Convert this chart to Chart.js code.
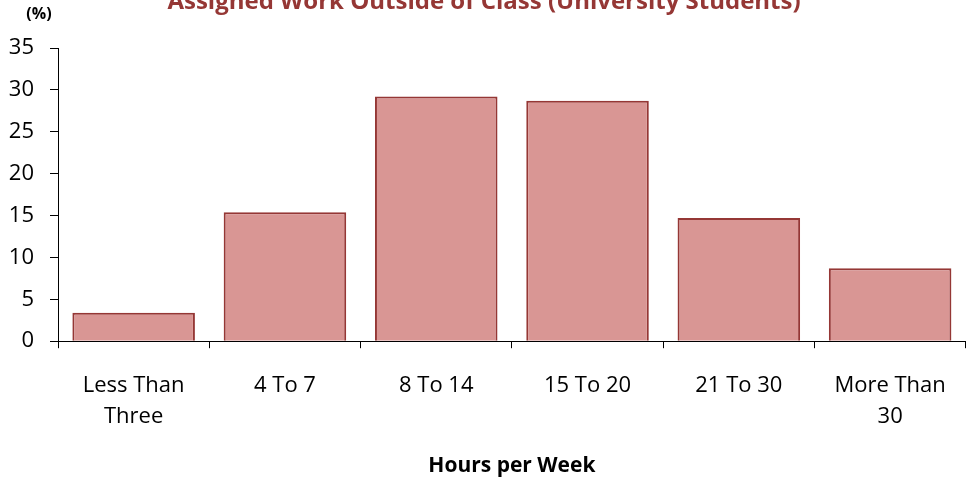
<!DOCTYPE html>
<html>
<head>
<meta charset="utf-8">
<script src="https://cdn.jsdelivr.net/npm/chart.js@4"></script>
<style>
  html, body { margin: 0; padding: 0; background: #fff; }
  #wrap { width: 968px; height: 479px; }
</style>
</head>
<body>
<div id="wrap"><canvas id="myChart" width="968" height="479"></canvas></div>
<script>
// chart data
var categories = [['Less Than', 'Three'], '4 To 7', '8 To 14', '15 To 20', '21 To 30', ['More Than', '30']];
var shares = [3.4, 15.4, 29.2, 28.7, 14.7, 8.7];
var yTicks = [0, 5, 10, 15, 20, 25, 30, 35];

var chartTitle = 'Assigned Work Outside of Class (University Students)';
var unitLabel = '(%)';
var xTitle = 'Hours per Week';

var fontName = '"Open Sans", sans-serif';

// title is drawn by hand so it can sit partly off the top, like the original
var headerPlugin = {
  id: 'header',
  afterDraw: function (chart) {
    var ctx = chart.ctx;
    ctx.save();
    ctx.fillStyle = '#953735';
    ctx.font = 'bold 24px ' + fontName;
    ctx.textAlign = 'center';
    ctx.textBaseline = 'alphabetic';
    ctx.fillText(chartTitle, 484, 9);
    ctx.fillStyle = '#000';
    ctx.font = 'bold 16px ' + fontName;
    ctx.fillText(unitLabel, 39, 19);
    ctx.restore();
  }
};

var ctx = document.getElementById('myChart').getContext('2d');
var myChart = new Chart(ctx, {
  type: 'bar',
  data: {
    labels: categories,
    datasets: [{
      data: shares,
      backgroundColor: '#D99694',
      borderColor: '#953735',
      borderWidth: 2,
      borderSkipped: 'bottom',
      barPercentage: 0.81,
      categoryPercentage: 1
    }]
  },
  options: {
    responsive: false,
    animation: false,
    layout: { padding: { top: 48, right: 2, left: 0, bottom: 0 } },
    plugins: {
      legend: { display: false },
      tooltip: { enabled: false }
    },
    scales: {
      x: {
        grid: { display: true, drawOnChartArea: false, color: '#000', tickLength: 7 },
        border: { color: '#000', width: 1 },
        ticks: {
          color: '#000',
          font: { family: fontName, size: 22, lineHeight: 1.4 },
          maxRotation: 0,
          padding: 22
        },
        title: {
          display: true,
          text: xTitle,
          color: '#000',
          font: { family: fontName, size: 21, weight: 'bold' },
          padding: { top: 0, bottom: 0 }
        }
      },
      y: {
        min: 0,
        max: 35,
        afterBuildTicks: function (axis) {
          axis.ticks = yTicks.map(function (v) { return { value: v }; });
        },
        afterFit: function (axis) { axis.width = 58; },
        grid: { display: true, drawOnChartArea: false, color: '#000', tickLength: 8 },
        border: { color: '#000', width: 1 },
        ticks: {
          color: '#000',
          font: { family: fontName, size: 22 },
          padding: 16
        }
      }
    }
  },
  plugins: [headerPlugin]
});
</script>
</body>
</html>
